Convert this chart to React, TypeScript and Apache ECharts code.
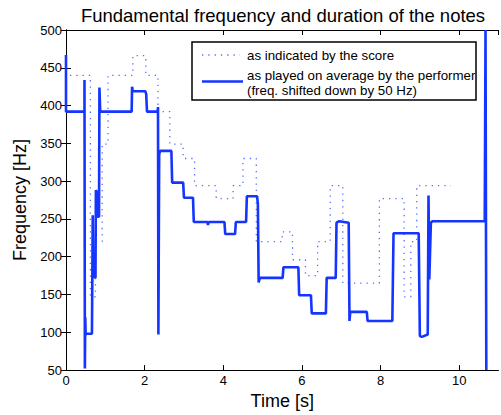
import React, { useEffect, useRef } from "react";
import * as echarts from "echarts";

const FONT = "Liberation Sans, Arial, Helvetica, sans-serif";

const titleText = "Fundamental frequency and duration of the notes";
const xName = "Time [s]";
const yName = "Frequency [Hz]";
const legendScore = "as indicated by the score";
const legendPlayed1 = "as played on average by the performer";
const legendPlayed2 = "(freq. shifted down by 50 Hz)";

// score (dotted): [time s, freq Hz]
const scoreTimes = [
  0.1, 0.62, 0.62, 0.75, 0.75, 0.92, 0.92, 1.07, 1.07, 1.7, 1.7, 2.03, 2.03, 2.34, 2.34, 2.64, 2.64, 2.98,
  2.98, 3.27, 3.27, 3.82, 3.82, 4.25, 4.25, 4.5, 4.5, 4.84, 4.84, 5.5, 5.5, 5.76, 5.76, 6.09, 6.09, 6.4,
  6.4, 6.72, 6.72, 7.04, 7.04, 7.97, 7.97, 8.6, 8.6, 8.77, 8.77, 8.92, 8.92, 9.79,
];
const scoreFreqs = [
  440, 440, 147, 147, 220, 220, 349, 349, 440, 440, 466, 466, 440, 440, 392, 392, 349, 349,
  330, 330, 294, 294, 277, 277, 294, 294, 330, 330, 220, 220, 233, 233, 196, 196, 175, 175,
  220, 220, 294, 294, 165, 165, 277, 277, 147, 147, 220, 220, 294, 294,
];

// performer (solid, shifted down 50 Hz): [time s, freq Hz]
const playedTimes = [
  0, 0, 0.44, 0.47, 0.47, 0.48, 0.49, 0.5, 0.52, 0.66, 0.67, 0.68, 0.69, 0.75, 0.76, 0.79, 0.8, 0.84,
  0.85, 0.87, 1.67, 1.68, 1.7, 2.02, 2.04, 2.06, 2.33, 2.34, 2.35, 2.37, 2.39, 2.68, 2.7, 2.98,
  3.0, 3.23, 3.25, 3.6, 3.61, 3.63, 4.03, 4.05, 4.3, 4.32, 4.58, 4.6, 4.86, 4.88, 4.9, 4.93,
  5.51, 5.53, 5.91, 5.93, 6.23, 6.25, 6.61, 6.63, 6.86, 6.88, 6.95, 7.19, 7.21, 7.23, 7.65, 7.67,
  8.3, 8.33, 8.97, 9.0, 9.05, 9.2, 9.22, 9.24, 9.28, 9.32, 10.65, 10.67, 10.69,
];
const playedFreqs = [
  467, 392, 392, 392, 434, 52, 120, 97, 98, 98, 98, 255, 175, 172, 288, 285, 253, 253,
  424, 392, 392, 425, 419, 419, 415, 392, 392, 398, 97, 335, 340, 340, 298, 298,
  278, 278, 246, 246, 242, 246, 246, 230, 230, 246, 246, 280, 280, 270, 166, 172,
  172, 186, 186, 149, 149, 125, 125, 172, 172, 245, 247, 245, 115, 127, 127, 115,
  115, 231, 231, 95, 94, 97, 281, 170, 245, 247, 247, 500, 50,
];

const xTickStep = 2;
const yTickStep = 50;

const BLUE = "#1434ff";

export default function App() {
  const ref = useRef<HTMLDivElement>(null);

  useEffect(() => {
    if (!ref.current) return;
    const chart = echarts.init(ref.current, null, { renderer: "svg" });

    const score = scoreTimes.map((t, i) => [t, scoreFreqs[i]]);
    const played = playedTimes.map((t, i) => [t, playedFreqs[i]]);

    const axisLine = { show: true, lineStyle: { color: "#000", width: 1 } };
    const tick = { show: true, inside: true, length: 5, lineStyle: { color: "#000", width: 1 } };
    const legendText = (text: string, y: number) => ({
      type: "text",
      x: 247,
      y,
      z: 11,
      style: {
        text,
        fill: "#000",
        fontSize: 13.3,
        fontFamily: FONT,
        textAlign: "left",
        textVerticalAlign: "middle",
      },
    });

    chart.setOption({
      animation: false,
      backgroundColor: "#fff",
      textStyle: { fontFamily: FONT },
      grid: { left: 66, top: 30, right: 2.5, bottom: 42.5, containLabel: false },
      xAxis: [
        {
          type: "value",
          position: "bottom",
          min: 0,
          max: 11,
          interval: xTickStep,
          axisLine,
          axisTick: tick,
          splitLine: { show: false },
          axisLabel: { color: "#000", fontSize: 13, fontFamily: FONT, margin: 4, showMaxLabel: false },
          name: xName,
          nameLocation: "middle",
          nameGap: 20,
          nameTextStyle: { color: "#000", fontSize: 18, fontFamily: FONT },
        },
        {
          type: "value",
          position: "top",
          min: 0,
          max: 11,
          interval: xTickStep,
          axisLine,
          axisTick: tick,
          splitLine: { show: false },
          axisLabel: { show: false },
        },
      ],
      yAxis: [
        {
          type: "value",
          position: "left",
          min: 50,
          max: 500,
          interval: yTickStep,
          axisLine,
          axisTick: tick,
          splitLine: { show: false },
          axisLabel: { color: "#000", fontSize: 13, fontFamily: FONT, margin: 4 },
          name: yName,
          nameLocation: "middle",
          nameGap: 37,
          nameTextStyle: { color: "#000", fontSize: 18, fontFamily: FONT },
        },
        {
          type: "value",
          position: "right",
          min: 50,
          max: 500,
          interval: yTickStep,
          axisLine,
          axisTick: tick,
          splitLine: { show: false },
          axisLabel: { show: false },
        },
      ],
      series: [
        {
          type: "line",
          name: legendScore,
          data: score,
          xAxisIndex: 0,
          yAxisIndex: 0,
          showSymbol: false,
          symbol: "none",
          lineStyle: { color: "#3355ff", width: 1.3, type: [1.3, 5], opacity: 0.85 },
          z: 2,
        },
        {
          type: "line",
          name: legendPlayed1,
          data: played,
          xAxisIndex: 0,
          yAxisIndex: 0,
          showSymbol: false,
          symbol: "none",
          lineStyle: { color: BLUE, width: 2.6 },
          z: 3,
        },
      ],
      graphic: [
        {
          type: "text",
          x: 283,
          y: 15,
          style: {
            text: titleText,
            fill: "#000",
            fontSize: 18.5,
            fontFamily: FONT,
            textAlign: "center",
            textVerticalAlign: "middle",
          },
        },
        {
          type: "rect",
          shape: { x: 192, y: 42, width: 284, height: 58 },
          style: { fill: "#fff", stroke: "#000", lineWidth: 1.5 },
          z: 10,
        },
        {
          type: "line",
          shape: { x1: 202, y1: 55, x2: 240, y2: 55 },
          style: { stroke: "#3355ff", lineWidth: 1.3, lineDash: [1.3, 5], opacity: 0.85 },
          z: 11,
        },
        {
          type: "line",
          shape: { x1: 202, y1: 81.5, x2: 243, y2: 81.5 },
          style: { stroke: BLUE, lineWidth: 2.6 },
          z: 11,
        },
        legendText(legendScore, 55.3),
        legendText(legendPlayed1, 75.3),
        legendText(legendPlayed2, 90.3),
      ],
    });

    return () => chart.dispose();
  }, []);

  return (
    <div
      ref={ref}
      style={{ position: "absolute", left: 0, top: 0, width: 501, height: 415 }}
    />
  );
}
